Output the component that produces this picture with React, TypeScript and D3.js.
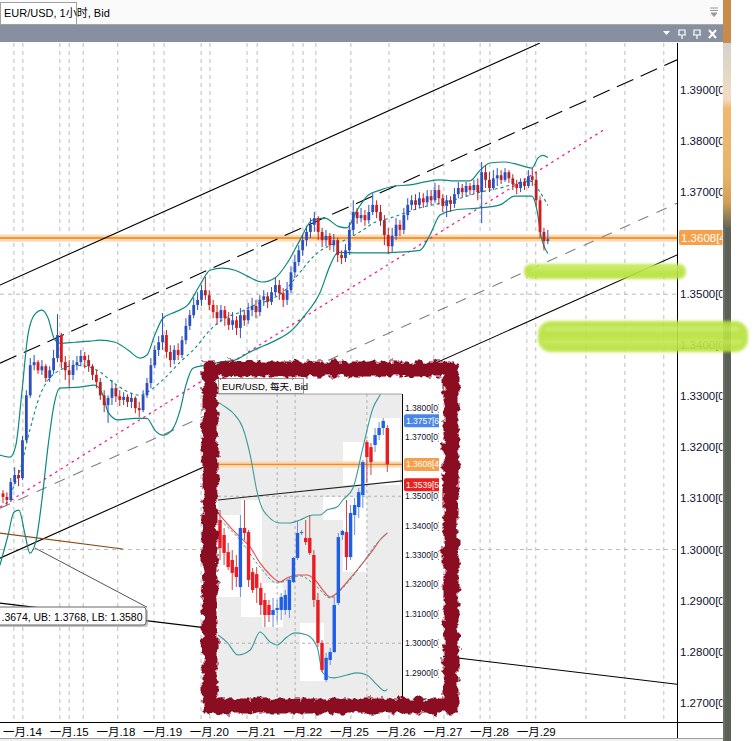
import React from "react";
import * as d3 from "d3";

// ---------- Main chart (EUR/USD 1H), one value per 2-hour step ----------
const firstOpen = 1.311;
const hourlyClose = [
  1.3103, 1.3097, 1.3132, 1.3146, 1.314, 1.3214, 1.3302, 1.3361, 1.3367, 1.3351,
  1.3359, 1.3336, 1.3351, 1.3375, 1.342, 1.3367, 1.3351, 1.3342, 1.3361, 1.3367,
  1.3379, 1.3371, 1.3359, 1.3342, 1.3328, 1.3302, 1.3283, 1.3297, 1.3316, 1.33,
  1.3293, 1.3299, 1.3289, 1.3297, 1.3277, 1.3273, 1.3302, 1.3326, 1.3361, 1.3391,
  1.3406, 1.342, 1.3387, 1.3371, 1.3391, 1.3381, 1.341, 1.3438, 1.3459, 1.3479,
  1.3489, 1.3508, 1.3498, 1.3479, 1.3465, 1.3453, 1.3469, 1.3453, 1.344, 1.3449,
  1.3434, 1.3459, 1.3449, 1.3469, 1.3477, 1.3465, 1.3489, 1.3496, 1.3485, 1.3504,
  1.3518, 1.3502, 1.3489, 1.3508, 1.3543, 1.3563, 1.3586, 1.3606, 1.3622, 1.3636,
  1.3649, 1.3622, 1.3606, 1.3614, 1.3596, 1.3606, 1.3577, 1.3571, 1.3586, 1.3626,
  1.3661, 1.3649, 1.3655, 1.3645, 1.3661, 1.3675, 1.3661, 1.3645, 1.3616, 1.3594,
  1.3614, 1.3636, 1.3626, 1.3655, 1.3675, 1.3684, 1.3675, 1.3688, 1.368, 1.3692,
  1.3684, 1.3704, 1.3688, 1.3673, 1.3684, 1.3677, 1.3696, 1.3708, 1.37, 1.3712,
  1.3704, 1.3714, 1.37, 1.3739, 1.3724, 1.3708, 1.3727, 1.3733, 1.3724, 1.3739,
  1.3727, 1.3716, 1.3708, 1.372, 1.3712, 1.3731, 1.3724, 1.3684, 1.3622, 1.3604,
  1.3608,
];
const hourlyHigh = [
  1.3116, 1.3112, 1.314, 1.3161, 1.3156, 1.3222, 1.3312, 1.3375, 1.3381, 1.3371,
  1.3371, 1.3363, 1.3359, 1.3391, 1.3461, 1.3424, 1.3379, 1.3371, 1.3371, 1.3379,
  1.3391, 1.3387, 1.3381, 1.3363, 1.3351, 1.3336, 1.3312, 1.3302, 1.3332, 1.3322,
  1.3312, 1.3308, 1.3304, 1.3306, 1.33, 1.3289, 1.3312, 1.3336, 1.3375, 1.34,
  1.3418, 1.3463, 1.343, 1.34, 1.34, 1.3404, 1.3418, 1.3453, 1.3469, 1.3493,
  1.3504, 1.3518, 1.3534, 1.3508, 1.3489, 1.3479, 1.3479, 1.3477, 1.3465, 1.3465,
  1.3457, 1.3473, 1.3469, 1.3483, 1.3493, 1.3489, 1.3498, 1.3508, 1.3504, 1.3514,
  1.3532, 1.3528, 1.3512, 1.3524, 1.3555, 1.3577, 1.3596, 1.3616, 1.3634, 1.3649,
  1.3661, 1.3653, 1.363, 1.3626, 1.362, 1.3618, 1.361, 1.3586, 1.3598, 1.3641,
  1.3684, 1.3669, 1.3669, 1.3665, 1.3675, 1.3698, 1.3684, 1.3675, 1.3655, 1.363,
  1.363, 1.3649, 1.3645, 1.3669, 1.3688, 1.3694, 1.3696, 1.37, 1.3698, 1.3704,
  1.3704, 1.3718, 1.3714, 1.3696, 1.3694, 1.3692, 1.3708, 1.372, 1.3716, 1.372,
  1.3718, 1.3724, 1.3727, 1.3759, 1.3753, 1.3739, 1.3743, 1.3747, 1.3743, 1.3747,
  1.3743, 1.3735, 1.3724, 1.3727, 1.3727, 1.3743, 1.3747, 1.3739, 1.3692, 1.363,
  1.3626,
];
const hourlyLow = [
  1.3091, 1.3087, 1.3093, 1.3128, 1.3124, 1.3136, 1.321, 1.3297, 1.3351, 1.3344,
  1.3342, 1.3328, 1.3328, 1.3344, 1.3367, 1.3355, 1.3332, 1.3318, 1.3332, 1.3351,
  1.3359, 1.3355, 1.3348, 1.3332, 1.3316, 1.3293, 1.3269, 1.3248, 1.3283, 1.3289,
  1.3281, 1.3283, 1.3279, 1.3277, 1.3267, 1.3259, 1.3269, 1.3297, 1.3316, 1.3355,
  1.3379, 1.3391, 1.3375, 1.3357, 1.3363, 1.3371, 1.3375, 1.3402, 1.343, 1.3453,
  1.3469, 1.3477, 1.3489, 1.3469, 1.3453, 1.344, 1.3446, 1.3438, 1.343, 1.343,
  1.342, 1.3414, 1.3438, 1.3442, 1.3457, 1.3453, 1.3457, 1.3477, 1.3473, 1.3479,
  1.3496, 1.3489, 1.3475, 1.3479, 1.3502, 1.3532, 1.3555, 1.3575, 1.3594, 1.361,
  1.3622, 1.3606, 1.3592, 1.3594, 1.3586, 1.3583, 1.3563, 1.3559, 1.3563, 1.3577,
  1.3616, 1.3638, 1.3641, 1.3634, 1.3638, 1.3655, 1.3649, 1.3634, 1.3596, 1.3579,
  1.3583, 1.3606, 1.3614, 1.3618, 1.3645, 1.3665, 1.3665, 1.3669, 1.3669, 1.3673,
  1.3675, 1.3679, 1.3675, 1.3661, 1.3651, 1.3661, 1.3669, 1.3688, 1.369, 1.3692,
  1.3694, 1.3696, 1.3684, 1.3639, 1.3708, 1.37, 1.3704, 1.3712, 1.3716, 1.372,
  1.3718, 1.3704, 1.3696, 1.37, 1.3704, 1.3708, 1.3712, 1.3673, 1.361, 1.3586,
  1.3598,
];

// Bollinger bands [step, price]
const bbUpper = [
  [-0.8, 1.3185], [1.8, 1.3181], [3.3, 1.3204], [4.9, 1.3312], [6.4, 1.342], [8.2, 1.3461],
  [10, 1.3469], [11.6, 1.3453], [13.1, 1.3414], [14.6, 1.3404], [18.5, 1.3406], [22.4, 1.3408],
  [24.9, 1.341], [28.8, 1.3406], [32.1, 1.3391], [35.2, 1.3375], [37, 1.3381], [39, 1.342],
  [41.1, 1.3453], [44.2, 1.3465], [47.5, 1.3479], [50.6, 1.3518], [53.2, 1.3547], [56.3, 1.3551],
  [59.6, 1.3547], [62.9, 1.3535], [66.5, 1.3524], [69.9, 1.3532], [73.2, 1.3563], [76.3, 1.3606],
  [79.4, 1.3645], [82.7, 1.3649], [86.1, 1.3633], [88.4, 1.363], [91, 1.3665], [93.8, 1.3694],
  [96.9, 1.3704], [100.7, 1.3712], [104.6, 1.3714], [108.4, 1.372], [112.3, 1.3724], [116.1, 1.3722],
  [120, 1.3722], [122.6, 1.3743], [125.1, 1.3757], [129, 1.3759], [132.8, 1.3753], [135.9, 1.3747],
  [137.5, 1.3767], [138.7, 1.3772], [140, 1.3768],
];
const bbLower = [
  [-0.8, 1.2969], [1.3, 1.3028], [2.8, 1.3073], [4.1, 1.3077], [5.7, 1.3028], [6.9, 1.2993],
  [8.5, 1.3018], [10, 1.3097], [11.6, 1.3204], [13.1, 1.3283], [14.6, 1.3316], [19.8, 1.3318],
  [23.6, 1.3322], [25.7, 1.3302], [27, 1.3269], [29.5, 1.3254], [33.9, 1.3257], [37, 1.3257],
  [39, 1.3234], [41.1, 1.3224], [43.4, 1.3234], [45.5, 1.3273], [47, 1.3322], [48.8, 1.3355],
  [51.9, 1.3361], [55.8, 1.3367], [59.6, 1.3371], [63.5, 1.3387], [67.3, 1.34], [71.2, 1.3414],
  [73.7, 1.3426], [77.6, 1.3459], [81.5, 1.3504], [84.1, 1.3557], [86.1, 1.3582], [91.7, 1.3581],
  [96.9, 1.3581], [100.7, 1.3582], [107.1, 1.3586], [109.7, 1.3616], [112.3, 1.3655], [116.1, 1.3665],
  [122.6, 1.3669], [127.7, 1.3675], [131.5, 1.3692], [135.9, 1.3692], [137.2, 1.3665], [138.2, 1.3616],
  [140, 1.358],
];
const bbMiddle = [
  [1.8, 1.3107], [4.4, 1.3156], [6.9, 1.3234], [9.5, 1.3302], [11.6, 1.3332], [14.6, 1.3351],
  [18.5, 1.3361], [22.4, 1.3357], [24.9, 1.3348], [27.5, 1.3332], [31.3, 1.3312], [35.2, 1.3302],
  [37.8, 1.3312], [41.6, 1.3336], [45.5, 1.3367], [49.3, 1.3394], [53.2, 1.343], [57, 1.3453],
  [60.9, 1.3465], [64.7, 1.3479], [68.6, 1.3489], [72.5, 1.3508], [76.3, 1.3543], [80.2, 1.3577],
  [84.1, 1.3596], [87.9, 1.3606], [91.7, 1.3622], [95.6, 1.3641], [99.4, 1.3649], [103.3, 1.3659],
  [107.1, 1.3669], [112.3, 1.3678], [117.4, 1.3688], [122.6, 1.37], [127.7, 1.3708], [131.5, 1.3716],
  [135.4, 1.3722], [138, 1.37], [140, 1.3674],
];

// Drawn objects [step, price] end points
const channelTop = [[-0.77, 1.3518], [137.97, 1.3992]];
const channelMid = [[-0.77, 1.3365], [173.2, 1.3959]];
const channelLow = [[-0.77, 1.2983], [173.2, 1.3577]];
const grayDashed = [[-0.77, 1.3081], [173.2, 1.3678]];
const pinkDotted = [[-0.77, 1.3083], [154.2, 1.3821]];
const brownLine = [[-0.77, 1.3032], [30.8, 1.3001]];
const leaderLine = [[8.2, 1.3003], [37.0, 1.2887]];
const bottomLine = [[-0.77, 1.2895], [173.2, 1.2736]];

const dayLabels = ["一月.14", "一月.15", "一月.18", "一月.19", "一月.20", "一月.21", "一月.22", "一月.25", "一月.26", "一月.27", "一月.28", "一月.29"];
const gridSteps = [2.8, 5.1, 14.6, 17.0, 20.6, 29.5, 38.8, 41.4, 50.9, 53.2, 62.7, 65.3, 74.5, 77.1, 80.4, 89.4, 99.2, 110.7, 113.3, 122.6, 125.1, 134.6, 136.9, 149.8, 159.8, 169.8];
const priceTicks = [1.39, 1.38, 1.37, 1.36, 1.35, 1.34, 1.33, 1.32, 1.31, 1.3, 1.29, 1.28, 1.27];
const gridPrices = [1.35, 1.3];
const bidPrice = 1.3608;
const bandValues = { mb: "1.3674", ub: "1.3768", lb: "1.3580" };

// ---------- Inset chart (EUR/USD daily) ----------
const insetOpen = [1.3419, 1.3368, 1.331, 1.3283, 1.3259, 1.3191, 1.3392, 1.3378, 1.3242, 1.3235, 1.3188, 1.3147, 1.313, 1.3096, 1.3113, 1.3113, 1.3113, 1.3113, 1.3208, 1.329, 1.3375, 1.3358, 1.3358, 1.33, 1.3147, 1.3001, 1.2875, 1.2943, 1.297, 1.3137, 1.3368, 1.3378, 1.3293, 1.3436, 1.3463, 1.3504, 1.3684, 1.3667, 1.3674, 1.3708, 1.3732, 1.3732];
const insetHigh = [1.3453, 1.3392, 1.3341, 1.3317, 1.33, 1.3436, 1.3487, 1.3385, 1.3256, 1.3259, 1.3205, 1.3171, 1.3147, 1.3154, 1.3147, 1.3171, 1.3181, 1.3225, 1.3293, 1.3419, 1.3385, 1.3419, 1.3436, 1.3317, 1.3171, 1.3011, 1.2967, 1.2984, 1.3157, 1.3375, 1.3385, 1.3487, 1.347, 1.3494, 1.3528, 1.3623, 1.3691, 1.3681, 1.3732, 1.3752, 1.3766, 1.3742];
const insetLow = [1.3283, 1.3266, 1.3249, 1.3181, 1.3191, 1.3157, 1.3351, 1.3191, 1.3171, 1.3137, 1.3096, 1.3055, 1.3072, 1.3055, 1.3072, 1.3079, 1.3096, 1.3086, 1.3205, 1.3283, 1.3368, 1.3334, 1.33, 1.3123, 1.2987, 1.2902, 1.2868, 1.2926, 1.2967, 1.313, 1.3351, 1.3249, 1.3283, 1.3368, 1.3426, 1.346, 1.3545, 1.3572, 1.365, 1.3691, 1.3708, 1.3582];
const insetClose = [1.3324, 1.3307, 1.3259, 1.3239, 1.3225, 1.3392, 1.3375, 1.3215, 1.3181, 1.3188, 1.313, 1.3096, 1.3096, 1.3113, 1.312, 1.3157, 1.3164, 1.3215, 1.329, 1.3375, 1.3378, 1.3344, 1.3307, 1.3147, 1.3001, 1.2909, 1.295, 1.297, 1.313, 1.3361, 1.3382, 1.3293, 1.3443, 1.347, 1.3514, 1.3616, 1.3633, 1.3616, 1.3708, 1.3732, 1.3756, 1.3608];
const insetUpper = [[-0.5, 1.382], [1.7, 1.38], [3.2, 1.3783], [5.6, 1.3732], [7.4, 1.364], [9.1, 1.3514], [10.3, 1.346], [11.5, 1.3436], [14.7, 1.3409], [17.2, 1.3409], [19.6, 1.3419], [22.8, 1.3436], [24.5, 1.3436], [26.2, 1.3453], [28.7, 1.3463], [30.1, 1.3487], [32.6, 1.3528], [35, 1.3664], [37.5, 1.38], [39.2, 1.3844], [41, 1.3895]];
const insetLower = [[-0.5, 1.3028], [1.7, 1.3004], [4.4, 1.296], [7.4, 1.2977], [9.8, 1.3038], [12.3, 1.3004], [14, 1.2994], [16.4, 1.3021], [18.4, 1.3035], [21.3, 1.3028], [23.8, 1.2987], [25.2, 1.2899], [27.7, 1.2882], [31.1, 1.2892], [33.6, 1.2899], [36, 1.2892], [38.5, 1.2858], [40.4, 1.2838], [41, 1.2844]];
const insetMA = [[-0.5, 1.3443], [2.5, 1.3395], [4.9, 1.3361], [7.4, 1.3327], [9.8, 1.3273], [12.3, 1.3232], [14.7, 1.3208], [16.4, 1.3222], [18.9, 1.3232], [21.3, 1.3232], [23.3, 1.3215], [25.2, 1.3181], [27, 1.3157], [28.7, 1.3171], [31.1, 1.3208], [33.6, 1.3249], [36, 1.329], [37.5, 1.3317], [39.2, 1.3351], [41, 1.3375]];
const insetMid = [[0, 1.3419], [4.9, 1.3351], [9.8, 1.3259], [14, 1.3205], [19.6, 1.3229], [23.8, 1.3191], [27, 1.3154], [30.1, 1.3188], [34.3, 1.3259], [38.5, 1.3341], [41, 1.3375]];
const insetTrend = [[-0.5, 1.3487], [44.6, 1.3552]];
const insetTicks = [1.38, 1.37, 1.36, 1.35, 1.34, 1.33, 1.32, 1.31, 1.3, 1.29, 1.28];
const insetGridSteps = [14.0, 18.4, 36.0];
const insetMarkerPrices = [1.3757, 1.3608, 1.3539];
const insetMarkerDigits = ["6", "4", "5"];
const insetMarkerColors = ["#4a86e8", "#f5a04a", "#e8201e"];

const FONT = "'Liberation Sans', Arial, 'Noto Sans CJK SC', sans-serif";

export default function App() {
  React.useEffect(() => {
    document.body.style.margin = "0";
  }, []);

  const xM = d3.scaleLinear().domain([0, 12]).range([3, 49.7]);
  const yM = d3.scaleLinear().domain([1.27, 1.39]).range([702.7, 90]);
  const seg = d3.line<number[]>().x((d) => xM(d[0])).y((d) => yM(d[1]));
  const band = d3.line<number[]>().x((d) => xM(d[0])).y((d) => yM(d[1])).curve(d3.curveMonotoneX);

  const bars = hourlyClose.map((c, k) => {
    const o = k === 0 ? firstOpen : hourlyClose[k - 1];
    return { k, o, c, h: Math.max(hourlyHigh[k], o, c), l: Math.min(hourlyLow[k], o, c) };
  });

  const xI = d3.scaleLinear().domain([0, 41]).range([220, 387.3]);
  const yI = d3.scaleLinear().domain([1.28, 1.38]).range([702, 408]);
  const segI = d3.line<number[]>().x((d) => xI(d[0])).y((d) => yI(d[1]));
  const bandI = d3.line<number[]>().x((d) => xI(d[0])).y((d) => yI(d[1])).curve(d3.curveMonotoneX);
  const ibars = insetClose.map((c, i) => ({ i, o: insetOpen[i], c, h: insetHigh[i], l: insetLow[i] }));

  const bidY = yM(bidPrice);
  const mainTicksShown = priceTicks.filter((p) => Math.abs(yM(p) - bidY) > 9);
  const insetTicksShown = insetTicks.filter((p) => insetMarkerPrices.every((m) => Math.abs(yI(p) - yI(m)) > 8));
  // the label box is cut by the left window edge: only the tail of the MB value is visible
  const bandLabel = `.${bandValues.mb.slice(2)}, UB: ${bandValues.ub}, LB: ${bandValues.lb}`;

  return (
    <svg width={755} height={741} style={{ position: "absolute", left: 0, top: 0, display: "block" }} fontFamily={FONT}>
      <defs>
        <clipPath id="mainClip"><rect x={0} y={43} width={677} height={679} /></clipPath>
        <clipPath id="axisClip"><rect x={677} y={43} width={45.5} height={679} /></clipPath>
        <clipPath id="insetClip"><rect x={218} y={394} width={184} height={306} /></clipPath>
        <clipPath id="insetAxisClip"><rect x={402} y={394} width={37} height={306} /></clipPath>
        <filter id="rough" x="-10%" y="-10%" width="120%" height="120%">
          <feTurbulence type="fractalNoise" baseFrequency="0.13" numOctaves="3" seed="7" result="n" />
          <feDisplacementMap in="SourceGraphic" in2="n" scale="10" xChannelSelector="R" yChannelSelector="G" />
        </filter>
        <filter id="hl" x="-10%" y="-50%" width="120%" height="200%">
          <feGaussianBlur stdDeviation="1.6" />
        </filter>
        <linearGradient id="thumb" x1="0" y1="43" x2="0" y2="230" gradientUnits="userSpaceOnUse">
          <stop offset="0" stopColor="#d4d2cc" />
          <stop offset="0.3" stopColor="#f3dcc0" />
          <stop offset="0.35" stopColor="#f1b870" />
          <stop offset="0.7" stopColor="#e8b468" />
          <stop offset="0.85" stopColor="#d4a055" />
          <stop offset="1" stopColor="#5c6056" />
        </linearGradient>
      </defs>

      <rect x={0} y={0} width={755} height={741} fill="#ffffff" />

      {/* top tab strip */}
      <rect x={0} y={0} width={723} height={24} fill="#fafafa" />
      <line x1={0} x2={723} y1={24.5} y2={24.5} stroke="#a8a8a8" />
      <rect x={0.5} y={2.5} width={76} height={22} fill="#ffffff" stroke="#a0a0a0" />
      <text x={4} y={17} fontSize={11} fill="#000">EUR/USD, 1小时, Bid</text>
      <path d="M710,8 h8 M710,10.5 h8 M711,13 l3,3.5 l3,-3.5 z" stroke="#9a9a9a" fill="#9a9a9a" strokeWidth={1} />

      {/* title bar */}
      <rect x={0} y={25} width={723} height={17} fill="#878fa0" />
      <path d="M663,31 h7 l-3.5,4 z" fill="#fff" />
      <path d="M679,30 h6 v5 h-6 z M678,35 h8 M682,35 v4" stroke="#fff" fill="none" strokeWidth={1.2} />
      <path d="M694,30 h6 v5 h-6 z M693,35 h8 M697,35 v4" stroke="#fff" fill="none" strokeWidth={1.2} />
      <path d="M709,30 l7,8 M716,30 l-7,8" stroke="#fff" strokeWidth={2} />

      {/* main plot */}
      <g clipPath="url(#mainClip)">
        {gridSteps.map((s, i) => (
          <line key={"g" + i} x1={xM(s)} x2={xM(s)} y1={43} y2={722} stroke="#bcbcbc" strokeDasharray="4,4" />
        ))}
        {gridPrices.map((p, i) => (
          <line key={"h" + i} x1={0} x2={677} y1={yM(p)} y2={yM(p)} stroke="#bcbcbc" strokeDasharray="4,4" />
        ))}
        <rect x={0} y={bidY - 4.5} width={677} height={7} fill="#fdd9b6" />
        <line x1={0} x2={677} y1={bidY - 1} y2={bidY - 1} stroke="#f47e00" strokeWidth={1.5} />

        <path d={seg(channelTop) || ""} stroke="#000" strokeWidth={1.1} fill="none" />
        <path d={seg(channelMid) || ""} stroke="#000" strokeWidth={1.1} fill="none" strokeDasharray="18,8" />
        <path d={seg(channelLow) || ""} stroke="#000" strokeWidth={1.1} fill="none" />
        <path d={seg(grayDashed) || ""} stroke="#808080" strokeWidth={1.1} fill="none" strokeDasharray="11,9" />
        <path d={seg(pinkDotted) || ""} stroke="#ff1a8c" strokeWidth={1.3} fill="none" strokeDasharray="2.5,4" />
        <path d={seg(brownLine) || ""} stroke="#8b4a14" strokeWidth={1.2} fill="none" />
        <path d={seg(leaderLine) || ""} stroke="#555" strokeWidth={1} fill="none" />
        <path d={seg(bottomLine) || ""} stroke="#000" strokeWidth={1.1} fill="none" />

        <path d={band(bbUpper) || ""} stroke="#0b8a82" strokeWidth={1.2} fill="none" />
        <path d={band(bbLower) || ""} stroke="#0b8a82" strokeWidth={1.2} fill="none" />
        <path d={band(bbMiddle) || ""} stroke="#0b8a82" strokeWidth={1.1} fill="none" strokeDasharray="3,3" />

        {bars.map((b) => {
          const up = b.c >= b.o;
          const col = up ? "#2b4fc0" : (b.k % 3 === 0 ? "#e01818" : "#b0242a");
          const cx = xM(b.k);
          const top = yM(Math.max(b.o, b.c));
          const bot = yM(Math.min(b.o, b.c));
          return (
            <g key={"b" + b.k}>
              <line x1={cx} x2={cx} y1={yM(b.h)} y2={yM(b.l)} stroke={col} strokeWidth={1} />
              <rect x={cx - 1.4} y={top} width={2.8} height={Math.max(1, bot - top)} fill={col} />
            </g>
          );
        })}

        {/* band value label */}
        <rect x={-4} y={609} width={152} height={18} rx={3} fill="#9a9a9a" opacity={0.6} />
        <rect x={-6} y={607} width={152} height={18} rx={3} fill="#ffffff" stroke="#666" />
      </g>
      <text x={1.5} y={620.5} fontSize={11.5} fill="#000" textLength={141} lengthAdjust="spacingAndGlyphs">{bandLabel}</text>

      {/* axes */}
      <line x1={677.5} x2={677.5} y1={43} y2={741} stroke="#000" />
      <line x1={0} x2={723} y1={722.5} y2={722.5} stroke="#000" />
      <line x1={0} x2={723} y1={738.5} y2={738.5} stroke="#a0a0a0" />
      <rect x={0} y={739} width={723} height={2} fill="#f0f0f0" />
      <g clipPath="url(#axisClip)">
        {priceTicks.map((p, i) => (
          <line key={"ptl" + i} x1={673} x2={677} y1={yM(p)} y2={yM(p)} stroke="#000" />
        ))}
        {mainTicksShown.map((p, i) => (
          <text key={"pt" + i} x={680} y={yM(p) + 4} fontSize={11.5} fill="#101030">{p.toFixed(4) + "[0]"}</text>
        ))}
        <rect x={679} y={bidY - 9} width={50} height={15} rx={2} fill="#f6a04a" />
        <text x={681} y={bidY + 3} fontSize={11.5} fill="#fff">{bidPrice.toFixed(4) + "[4"}</text>
      </g>
      {dayLabels.map((t, i) => (
        <text key={"d" + i} x={xM(12 * i)} y={736} fontSize={11.5} fill="#000">{t}</text>
      ))}

      {/* scrollbar strip */}
      <rect x={723} y={0} width={8} height={741} fill="#5c6158" />
      <rect x={723} y={0} width={8} height={43} fill="#c98a4a" />
      <rect x={723} y={43} width={8} height={185} fill="url(#thumb)" />
      <line x1={724} x2={724} y1={228} y2={741} stroke="#7c8276" />

      {/* inset daily chart */}
      <g>
        <rect x={217} y={377} width={226} height={323} fill="#ffffff" />
        <rect x={218} y={394} width={184} height={306} fill="#ececec" />
        <g fill="#ffffff">
          <rect x={218} y={515} width={23} height={82} />
          <rect x={241} y={500} width={21} height={117} />
          <rect x={262} y={583} width={21} height={44} />
          <rect x={300} y={623} width={24} height={58} />
          <rect x={323} y={497} width={20} height={23} />
          <rect x={343} y={497} width={24} height={75} />
          <rect x={343} y={442} width={57} height={43} />
          <rect x={367} y={418} width={33} height={24} />
        </g>
        <g clipPath="url(#insetClip)">
          {insetGridSteps.map((s, i) => (
            <line key={"ig" + i} x1={xI(s)} x2={xI(s)} y1={394} y2={700} stroke="#b0b0b0" strokeDasharray="3,3" />
          ))}
          {[1.35, 1.3].map((p, i) => (
            <line key={"ih" + i} x1={218} x2={402} y1={yI(p)} y2={yI(p)} stroke="#b0b0b0" strokeDasharray="3,3" />
          ))}
          <rect x={218} y={yI(bidPrice) - 3} width={184} height={6} fill="#fbd8b0" />
          <line x1={218} x2={402} y1={yI(bidPrice)} y2={yI(bidPrice)} stroke="#f08a24" strokeWidth={1.3} />
          <path d={segI(insetTrend) || ""} stroke="#222" strokeWidth={1.1} fill="none" />
          <path d={bandI(insetUpper) || ""} stroke="#3a9c9a" strokeWidth={1.1} fill="none" />
          <path d={bandI(insetLower) || ""} stroke="#3a9c9a" strokeWidth={1.1} fill="none" />
          <path d={bandI(insetMA) || ""} stroke="#f04848" strokeWidth={1.1} fill="none" />
          <path d={bandI(insetMid) || ""} stroke="#3a9c9a" strokeWidth={1} fill="none" strokeDasharray="3,2" />
          {ibars.map((b) => {
            const up = b.c >= b.o;
            const col = up ? "#1f5fe6" : "#e81c22";
            const wick = up ? "#6a8fd8" : "#c84848";
            const cx = xI(b.i);
            const top = yI(Math.max(b.o, b.c));
            const bot = yI(Math.min(b.o, b.c));
            return (
              <g key={"ib" + b.i}>
                <line x1={cx} x2={cx} y1={yI(b.h)} y2={yI(b.l)} stroke={wick} strokeWidth={1} />
                <rect x={cx - 1.7} y={top} width={3.4} height={Math.max(1, bot - top)} fill={col} />
              </g>
            );
          })}
        </g>
        <line x1={218} x2={402} y1={394} y2={394} stroke="#a0a0a0" />
        <line x1={402.5} x2={402.5} y1={394} y2={700} stroke="#000" />
        <g clipPath="url(#insetAxisClip)">
          {insetTicks.map((p, i) => (
            <line key={"itl" + i} x1={399} x2={403} y1={yI(p)} y2={yI(p)} stroke="#000" />
          ))}
          {insetTicksShown.map((p, i) => (
            <text key={"it" + i} x={405} y={yI(p) + 3} fontSize={8.5} fill="#101030">{p.toFixed(4) + "[0]"}</text>
          ))}
          {insetMarkerPrices.map((p, i) => (
            <g key={"im" + i}>
              <rect x={404} y={yI(p) - 6.5} width={40} height={13} rx={2} fill={insetMarkerColors[i]} />
              <text x={406} y={yI(p) + 3} fontSize={8.5} fill="#fff">{p.toFixed(4) + "[" + insetMarkerDigits[i]}</text>
            </g>
          ))}
        </g>
        <rect x={218.5} y={378.5} width={85} height={15} fill="#f8f8f8" stroke="#9a9a9a" />
        <text x={222} y={390} fontSize={9.5} fill="#000">EUR/USD, 每天, Bid</text>
        <rect x={210} y={369} width={241} height={337} fill="none" stroke="#8a0c22" strokeWidth={15} filter="url(#rough)" />
      </g>

      {/* green highlighter marks */}
      <g filter="url(#hl)" opacity={0.92}>
        <rect x={524} y={264} width={162} height={15} rx={7} fill="#b8e23c" />
        <rect x={530} y={266} width={150} height={4} rx={2} fill="#c6ea5a" />
        <rect x={538} y={321} width={210} height={31} rx={13} fill="#b8e23c" />
        <rect x={545} y={327} width={195} height={4} rx={2} fill="#c8ea60" />
        <rect x={542} y={340} width={200} height={4} rx={2} fill="#c4e858" />
      </g>
    </svg>
  );
}
